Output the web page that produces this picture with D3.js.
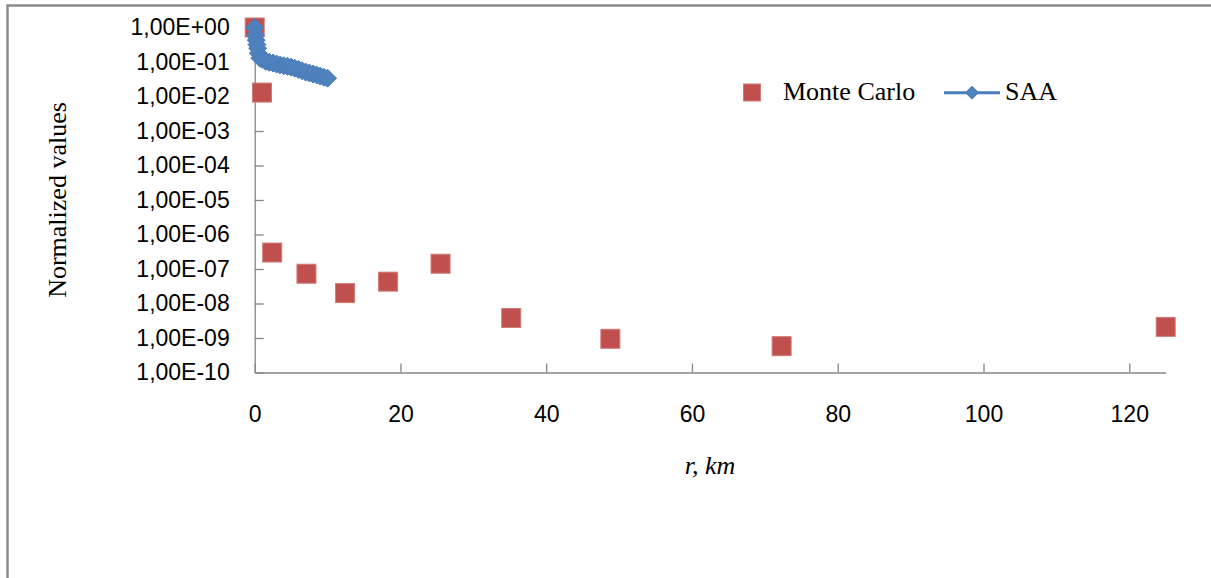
<!DOCTYPE html>
<html lang="en">
<head>
<meta charset="UTF-8">
<title>Normalized values vs r</title>
<style>
  body { margin: 0; background: #fff; }
  svg { display: block; }
  .tick text { font-family: "Liberation Sans", Arial, sans-serif; font-size: 23px; fill: #000; }
  .serif { font-family: "Liberation Serif", "Times New Roman", serif; font-size: 26px; fill: #000; }
</style>
</head>
<body>
<svg id="chart" width="1211" height="578"></svg>
<script src="https://d3js.org/d3.v7.min.js"></script>
<script>
// Monte Carlo points (r in km, normalized value)
const mcR = [0, 1, 2.4, 7.1, 12.4, 18.3, 25.5, 35.2, 48.8, 72.3, 125];
const mcV = [1, 1.3e-2, 3.0e-7, 7.3e-8, 2.0e-8, 4.3e-8, 1.42e-7, 3.8e-9, 9.5e-10, 5.8e-10, 2.1e-9];

// SAA curve
const saaR = [0, 0.1, 0.2, 0.3, 0.4, 0.5, 0.7, 1, 1.5, 2, 2.5, 3, 3.5, 4, 4.5, 5, 5.5, 6, 6.5, 7, 7.5, 8, 8.5, 9, 9.5, 10];
const saaV = [1, 0.6, 0.43, 0.32, 0.25, 0.18, 0.13, 0.12, 0.105, 0.098, 0.093, 0.087, 0.082, 0.078, 0.075, 0.071,
              0.066, 0.061, 0.056, 0.051, 0.048, 0.045, 0.042, 0.039, 0.036, 0.034];

const xTicks = [0, 20, 40, 60, 80, 100, 120];
const yTicks = [1, 1e-1, 1e-2, 1e-3, 1e-4, 1e-5, 1e-6, 1e-7, 1e-8, 1e-9, 1e-10];
const yTickLabels = ["1,00E+00", "1,00E-01", "1,00E-02", "1,00E-03", "1,00E-04", "1,00E-05",
                     "1,00E-06", "1,00E-07", "1,00E-08", "1,00E-09", "1,00E-10"];

const svg = d3.select("#chart");

// outer frame
svg.append("rect")
  .attr("x", 7.5).attr("y", 5.5)
  .attr("width", 1220).attr("height", 600)
  .attr("fill", "#fff")
  .attr("stroke", "#8a8a8a")
  .attr("stroke-width", 2.5);

const x = d3.scaleLinear().domain([0, 125]).range([254.7, 1165.7]);
const y = d3.scaleLog().domain([1e-10, 1]).range([372.5, 27.5]);

const axisColor = "#868686";

const gx = svg.append("g")
  .attr("transform", "translate(0,372.5)")
  .call(d3.axisBottom(x).tickValues(xTicks).tickSizeInner(-9).tickSizeOuter(0).tickPadding(33));
const gy = svg.append("g")
  .attr("transform", "translate(254.7,0)")
  .call(d3.axisLeft(y).tickValues(yTicks).tickSizeInner(-9).tickSizeOuter(0).tickPadding(25)
    .tickFormat((d, i) => yTickLabels[i]));

[gx, gy].forEach(g => {
  g.select(".domain").attr("stroke", axisColor).attr("stroke-width", 1.3);
  g.selectAll(".tick line").attr("stroke", axisColor).attr("stroke-width", 1.3);
  g.selectAll(".tick text").attr("font-size", null).attr("font-family", null);
});
gx.attr("font-size", null).attr("font-family", null);
gy.attr("font-size", null).attr("font-family", null);

// axis titles
svg.append("text")
  .attr("class", "serif")
  .attr("transform", "translate(66,200) rotate(-90)")
  .attr("text-anchor", "middle")
  .text("Normalized values");

svg.append("text")
  .attr("class", "serif")
  .attr("x", 710).attr("y", 474)
  .attr("text-anchor", "middle")
  .attr("font-style", "italic")
  .text("r, km");

const red = "#C0504D";
const blue = "#4A7EBB";
const sq = 19;

// Monte Carlo squares
svg.append("g")
  .selectAll("rect")
  .data(mcR.map((r, i) => ({ r: r, v: mcV[i] })))
  .join("rect")
  .attr("x", d => x(d.r) - sq / 2)
  .attr("y", d => y(d.v) - sq / 2)
  .attr("width", sq).attr("height", sq)
  .attr("fill", red)
  .attr("stroke", "#cf7b78")
  .attr("stroke-width", 1);

// SAA line + diamonds
const saa = saaR.map((r, i) => ({ r: r, v: saaV[i] }));
const diamond = h => `M0,${-h}L${h},0L0,${h}L${-h},0Z`;

svg.append("path")
  .datum(saa)
  .attr("fill", "none")
  .attr("stroke", blue)
  .attr("stroke-width", 3)
  .attr("d", d3.line().x(d => x(d.r)).y(d => y(d.v)));

svg.append("g")
  .selectAll("path")
  .data(saa)
  .join("path")
  .attr("transform", d => `translate(${x(d.r)},${y(d.v)})`)
  .attr("d", diamond(9))
  .attr("fill", "#4F81BD")
  .attr("stroke", blue)
  .attr("stroke-width", 1);

// legend
const lg = svg.append("g");
lg.append("rect")
  .attr("x", 743.5).attr("y", 84).attr("width", 17).attr("height", 17)
  .attr("fill", red).attr("stroke", "#cf7b78").attr("stroke-width", 1);
lg.append("text").attr("class", "serif").attr("x", 783).attr("y", 100).text("Monte Carlo");
lg.append("line")
  .attr("x1", 944).attr("x2", 1000).attr("y1", 92.7).attr("y2", 92.7)
  .attr("stroke", blue).attr("stroke-width", 3);
lg.append("path")
  .attr("transform", "translate(972,92.7)")
  .attr("d", diamond(6.5))
  .attr("fill", "#4F81BD").attr("stroke", blue);
lg.append("text").attr("class", "serif").attr("x", 1005).attr("y", 100).text("SAA");
</script>
</body>
</html>
